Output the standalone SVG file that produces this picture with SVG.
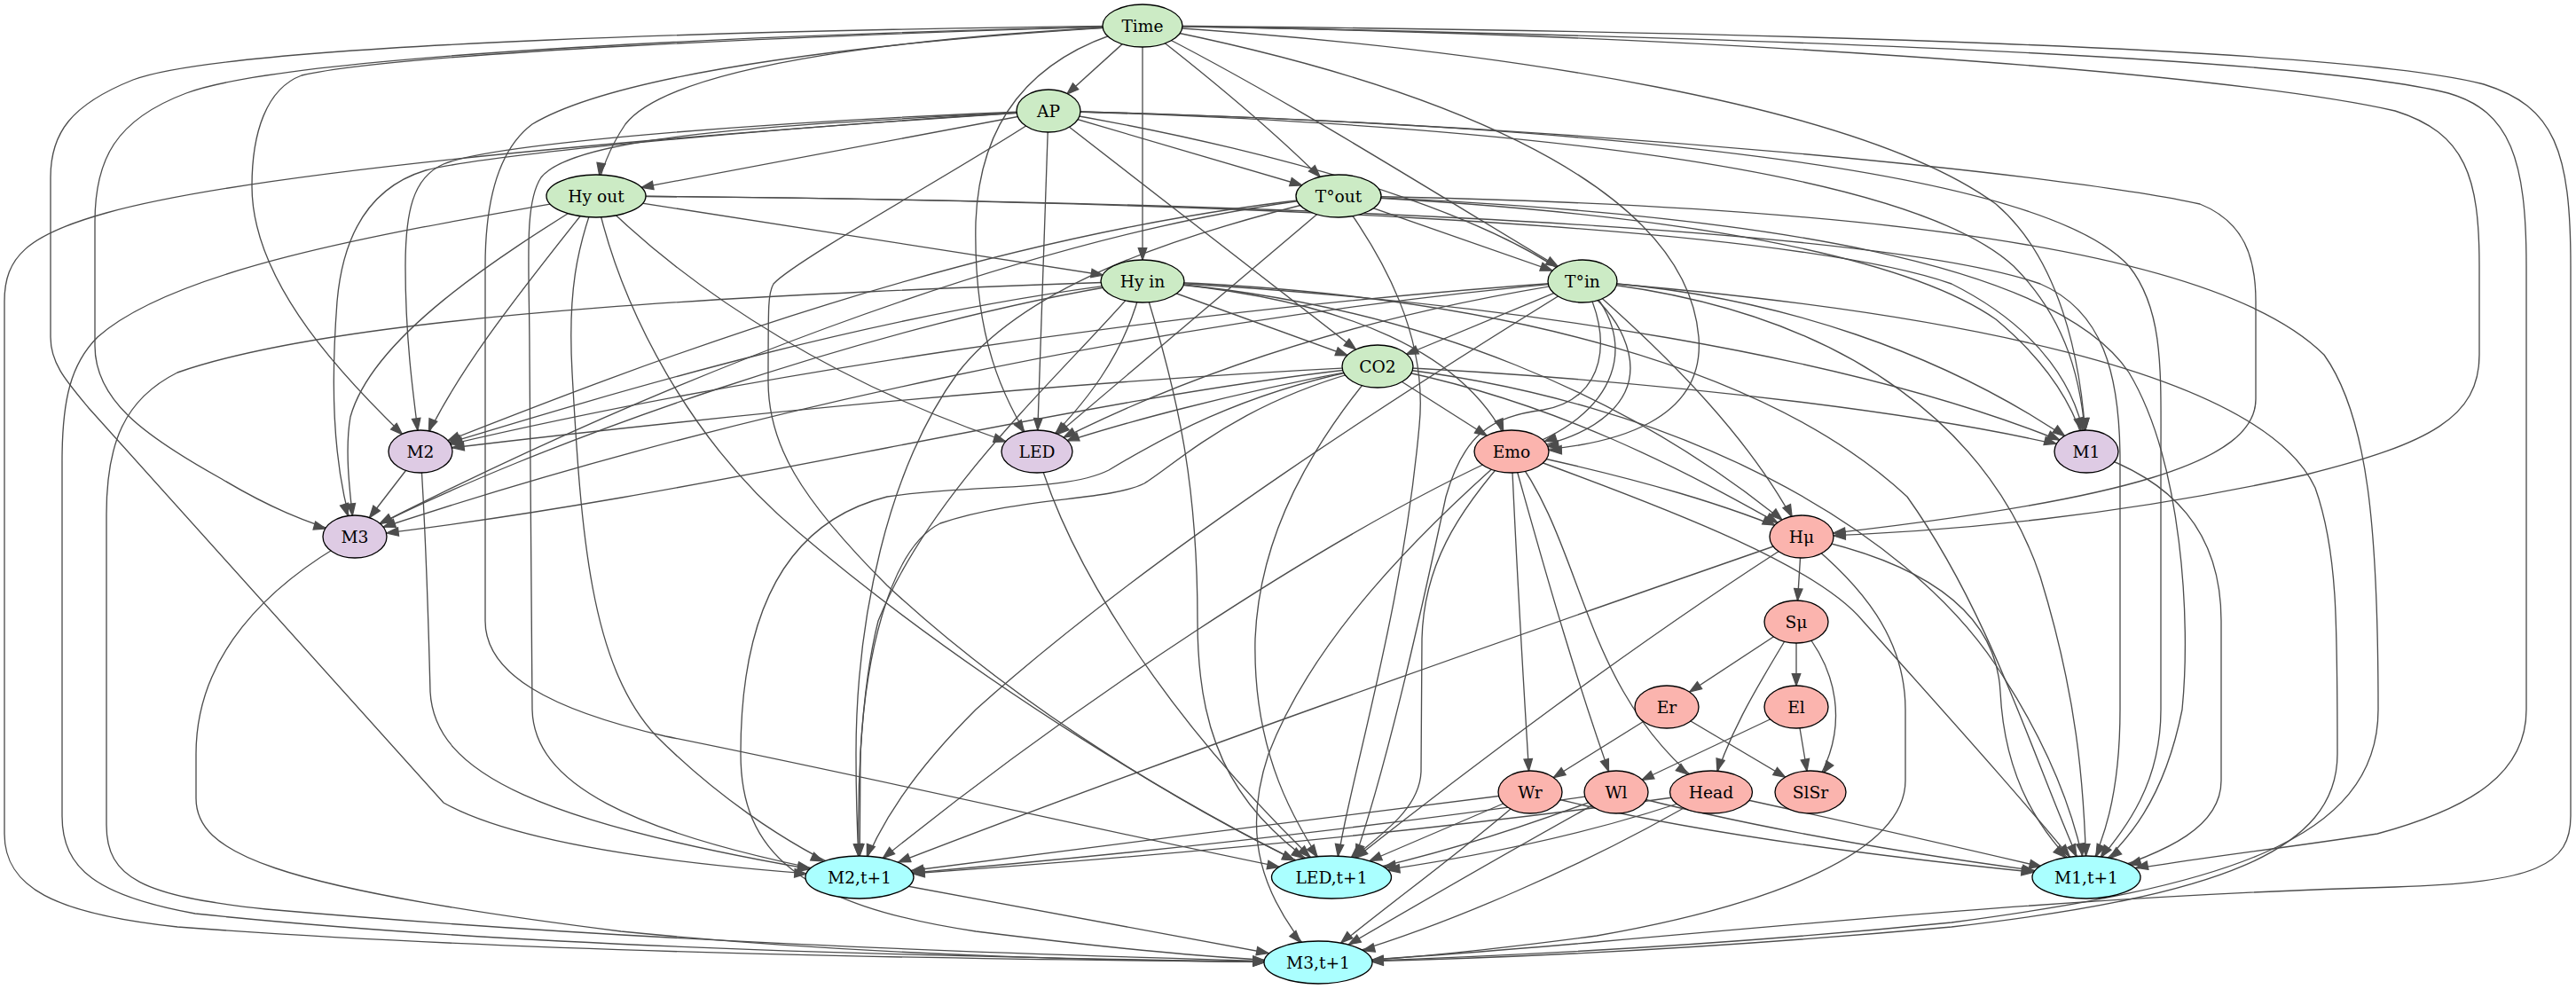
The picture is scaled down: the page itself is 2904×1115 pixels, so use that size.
<svg xmlns="http://www.w3.org/2000/svg" width="2904" height="1115" viewBox="0 0 2904 1115">
<style>
.e{fill:none;stroke:#4d4d4d;stroke-width:1.33}
.ah{fill:#4d4d4d;stroke:#4d4d4d;stroke-width:1.33}
ellipse{stroke:#000;stroke-width:1.33}
text{font-family:"DejaVu Serif","Liberation Serif",serif;font-size:18.67px;text-anchor:middle;fill:#000}
.g{fill:#ccebc5}.p{fill:#decbe4}.r{fill:#fbb4ae}.c{fill:#aaffff}
</style>
<defs>
<path id="ah" class="ah" d="M0,-4.7L13.3,0L0,4.7z"/>
<marker id="m24" markerUnits="userSpaceOnUse" orient="auto" refX="37.3" refY="0" markerWidth="14" markerHeight="10" style="overflow:visible"><use href="#ah"/></marker>
<marker id="m25" markerUnits="userSpaceOnUse" orient="auto" refX="38.3" refY="0" markerWidth="14" markerHeight="10" style="overflow:visible"><use href="#ah"/></marker>
<marker id="m26" markerUnits="userSpaceOnUse" orient="auto" refX="39.3" refY="0" markerWidth="14" markerHeight="10" style="overflow:visible"><use href="#ah"/></marker>
<marker id="m27" markerUnits="userSpaceOnUse" orient="auto" refX="40.3" refY="0" markerWidth="14" markerHeight="10" style="overflow:visible"><use href="#ah"/></marker>
<marker id="m28" markerUnits="userSpaceOnUse" orient="auto" refX="41.3" refY="0" markerWidth="14" markerHeight="10" style="overflow:visible"><use href="#ah"/></marker>
<marker id="m29" markerUnits="userSpaceOnUse" orient="auto" refX="42.3" refY="0" markerWidth="14" markerHeight="10" style="overflow:visible"><use href="#ah"/></marker>
<marker id="m30" markerUnits="userSpaceOnUse" orient="auto" refX="43.3" refY="0" markerWidth="14" markerHeight="10" style="overflow:visible"><use href="#ah"/></marker>
<marker id="m31" markerUnits="userSpaceOnUse" orient="auto" refX="44.3" refY="0" markerWidth="14" markerHeight="10" style="overflow:visible"><use href="#ah"/></marker>
<marker id="m32" markerUnits="userSpaceOnUse" orient="auto" refX="45.3" refY="0" markerWidth="14" markerHeight="10" style="overflow:visible"><use href="#ah"/></marker>
<marker id="m33" markerUnits="userSpaceOnUse" orient="auto" refX="46.3" refY="0" markerWidth="14" markerHeight="10" style="overflow:visible"><use href="#ah"/></marker>
<marker id="m34" markerUnits="userSpaceOnUse" orient="auto" refX="47.3" refY="0" markerWidth="14" markerHeight="10" style="overflow:visible"><use href="#ah"/></marker>
<marker id="m35" markerUnits="userSpaceOnUse" orient="auto" refX="48.3" refY="0" markerWidth="14" markerHeight="10" style="overflow:visible"><use href="#ah"/></marker>
<marker id="m36" markerUnits="userSpaceOnUse" orient="auto" refX="49.3" refY="0" markerWidth="14" markerHeight="10" style="overflow:visible"><use href="#ah"/></marker>
<marker id="m37" markerUnits="userSpaceOnUse" orient="auto" refX="50.3" refY="0" markerWidth="14" markerHeight="10" style="overflow:visible"><use href="#ah"/></marker>
<marker id="m38" markerUnits="userSpaceOnUse" orient="auto" refX="51.3" refY="0" markerWidth="14" markerHeight="10" style="overflow:visible"><use href="#ah"/></marker>
<marker id="m39" markerUnits="userSpaceOnUse" orient="auto" refX="52.3" refY="0" markerWidth="14" markerHeight="10" style="overflow:visible"><use href="#ah"/></marker>
<marker id="m40" markerUnits="userSpaceOnUse" orient="auto" refX="53.3" refY="0" markerWidth="14" markerHeight="10" style="overflow:visible"><use href="#ah"/></marker>
<marker id="m43" markerUnits="userSpaceOnUse" orient="auto" refX="56.3" refY="0" markerWidth="14" markerHeight="10" style="overflow:visible"><use href="#ah"/></marker>
<marker id="m45" markerUnits="userSpaceOnUse" orient="auto" refX="58.3" refY="0" markerWidth="14" markerHeight="10" style="overflow:visible"><use href="#ah"/></marker>
<marker id="m46" markerUnits="userSpaceOnUse" orient="auto" refX="59.3" refY="0" markerWidth="14" markerHeight="10" style="overflow:visible"><use href="#ah"/></marker>
<marker id="m47" markerUnits="userSpaceOnUse" orient="auto" refX="60.3" refY="0" markerWidth="14" markerHeight="10" style="overflow:visible"><use href="#ah"/></marker>
<marker id="m50" markerUnits="userSpaceOnUse" orient="auto" refX="63.3" refY="0" markerWidth="14" markerHeight="10" style="overflow:visible"><use href="#ah"/></marker>
<marker id="m52" markerUnits="userSpaceOnUse" orient="auto" refX="65.3" refY="0" markerWidth="14" markerHeight="10" style="overflow:visible"><use href="#ah"/></marker>
<marker id="m57" markerUnits="userSpaceOnUse" orient="auto" refX="70.3" refY="0" markerWidth="14" markerHeight="10" style="overflow:visible"><use href="#ah"/></marker>
<marker id="m59" markerUnits="userSpaceOnUse" orient="auto" refX="72.3" refY="0" markerWidth="14" markerHeight="10" style="overflow:visible"><use href="#ah"/></marker>
<marker id="m60" markerUnits="userSpaceOnUse" orient="auto" refX="73.3" refY="0" markerWidth="14" markerHeight="10" style="overflow:visible"><use href="#ah"/></marker>
<marker id="m64" markerUnits="userSpaceOnUse" orient="auto" refX="77.3" refY="0" markerWidth="14" markerHeight="10" style="overflow:visible"><use href="#ah"/></marker>
</defs>
<rect width="2904" height="1115" fill="#fff"/>
<g id="edges">
<path class="e" marker-end="url(#m28)" d="M1288,29 L1182,125"/>
<path class="e" marker-end="url(#m24)" d="M1288,29 C1050,40 760,70 705,140 C688,165 676,195 672,221"/>
<path class="e" marker-end="url(#m30)" d="M1288,29 C1380,100 1450,160 1509,221"/>
<path class="e" marker-end="url(#m24)" d="M1288,29 L1288,317"/>
<path class="e" marker-end="url(#m32)" d="M1288,29 C1450,110 1620,220 1784,317"/>
<path class="e" marker-end="url(#m26)" d="M1288,29 C1180,55 1105,120 1100,250 C1097,380 1130,450 1169,509"/>
<path class="e" marker-end="url(#m43)" d="M1288,29 C1600,90 1900,200 1915,380 C1922,470 1830,505 1704,509"/>
<path class="e" marker-end="url(#m24)" d="M1288,29 C1700,55 2100,120 2250,230 C2320,290 2347,400 2352,509"/>
<path class="e" marker-end="url(#m28)" d="M1288,29 C900,40 450,60 340,85 C300,100 284,150 284,210 C284,320 390,430 474,509"/>
<path class="e" marker-end="url(#m34)" d="M1288,29 C900,38 330,60 210,105 C130,135 107,180 107,250 L107,390 C107,450 160,490 250,540 C300,570 345,590 400,605"/>
<path class="e" marker-end="url(#m36)" d="M1288,29 C1900,38 2500,80 2700,125 C2780,150 2795,200 2795,300 L2795,400 C2795,470 2740,500 2600,535 C2400,580 2200,600 2031,605"/>
<path class="e" marker-end="url(#m60)" d="M1288,29 C900,33 260,48 150,90 C80,118 57,150 57,200 L57,380 C57,410 75,430 100,460 L500,905 C580,950 750,975 969,989"/>
<path class="e" marker-end="url(#m60)" d="M1288,29 C1000,45 700,80 600,140 C560,170 547,230 547,300 L547,700 C547,760 620,800 750,830 C1000,880 1300,950 1501,989"/>
<path class="e" marker-end="url(#m57)" d="M1288,29 C2000,42 2600,65 2760,105 C2830,125 2848,180 2848,300 L2848,800 C2848,870 2790,910 2680,940 C2550,960 2450,970 2352,989"/>
<path class="e" marker-end="url(#m60)" d="M1288,29 C2000,35 2650,55 2800,95 C2880,120 2898,170 2898,300 L2898,920 C2898,975 2860,995 2700,1000 C2400,1008 2100,1035 1800,1062 C1650,1075 1560,1082 1486,1085"/>

<path class="e" marker-end="url(#m52)" d="M1182,125 L672,221"/>
<path class="e" marker-end="url(#m43)" d="M1182,125 L1509,221"/>
<path class="e" marker-end="url(#m31)" d="M1182,125 L1553,413"/>
<path class="e" marker-end="url(#m24)" d="M1182,125 L1169,509"/>
<path class="e" marker-end="url(#m40)" d="M1182,125 C1450,170 1780,260 1830,380 C1860,450 1800,495 1704,509"/>
<path class="e" marker-end="url(#m24)" d="M1182,125 C1700,140 2150,190 2270,300 C2330,360 2348,430 2352,509"/>
<path class="e" marker-end="url(#m24)" d="M1182,125 C900,135 560,160 500,185 C465,200 457,240 457,300 C457,380 465,440 474,509"/>
<path class="e" marker-end="url(#m25)" d="M1182,125 C900,142 560,172 480,192 C420,210 387,260 380,340 C374,420 372,520 400,605"/>
<path class="e" marker-end="url(#m36)" d="M1182,125 C1800,140 2350,200 2480,230 C2530,250 2543,290 2543,340 L2543,450 C2543,520 2400,565 2031,605"/>
<path class="e" marker-end="url(#m57)" d="M1182,125 C900,140 650,150 610,200 C590,230 597,300 597,400 L600,800 C602,880 700,940 969,989"/>
<path class="e" marker-end="url(#m46)" d="M1182,125 C1120,170 900,290 872,320 C866,330 866,340 866,430 C866,500 900,560 1000,660 C1150,800 1350,920 1501,989"/>
<path class="e" marker-end="url(#m28)" d="M1182,125 C1800,140 2300,190 2400,300 C2440,350 2436,420 2436,520 L2436,800 C2436,900 2380,950 2352,989"/>
<path class="e" marker-end="url(#m60)" d="M1182,125 C800,150 300,190 120,240 C30,265 5,290 5,340 L5,940 C5,1000 60,1030 200,1045 C600,1075 1100,1082 1486,1085"/>

<path class="e" marker-end="url(#m45)" d="M672,221 L1288,317"/>
<path class="e" marker-end="url(#m37)" d="M672,221 C780,330 950,440 1169,509"/>
<path class="e" marker-end="url(#m25)" d="M672,221 C610,300 510,420 474,509"/>
<path class="e" marker-end="url(#m24)" d="M672,221 C560,290 420,380 395,470 C388,510 395,560 400,605"/>
<path class="e" marker-end="url(#m60)" d="M672,221 C450,260 200,300 110,380 C80,410 70,450 70,520 L70,920 C70,980 110,1010 220,1030 C600,1070 1100,1080 1486,1085"/>
<path class="e" marker-end="url(#m45)" d="M672,221 C650,280 640,330 645,420 C655,600 665,750 740,830 C800,890 880,950 969,989"/>
<path class="e" marker-end="url(#m46)" d="M672,221 C700,350 780,500 900,600 C1100,770 1350,920 1501,989"/>
<path class="e" marker-end="url(#m24)" d="M672,221 C1300,225 2000,250 2200,320 C2300,370 2345,440 2352,509"/>
<path class="e" marker-end="url(#m26)" d="M672,221 C1300,225 2100,250 2300,320 C2370,350 2390,420 2390,520 L2390,800 C2390,900 2370,950 2352,989"/>

<path class="e" marker-end="url(#m36)" d="M1509,221 L1784,317"/>
<path class="e" marker-end="url(#m30)" d="M1509,221 L1169,509"/>
<path class="e" marker-end="url(#m33)" d="M1509,221 C1100,260 700,420 474,509"/>
<path class="e" marker-end="url(#m32)" d="M1509,221 C1150,260 700,450 400,605"/>
<path class="e" marker-end="url(#m24)" d="M1509,221 C1300,270 1150,330 1080,420 C1000,530 965,700 965,850 C965,920 967,950 969,989"/>
<path class="e" marker-end="url(#m24)" d="M1509,221 C1560,290 1610,380 1600,480 C1580,700 1520,880 1505,989"/>
<path class="e" marker-end="url(#m25)" d="M1509,221 C1900,240 2150,290 2250,360 C2310,410 2340,460 2352,509"/>
<path class="e" marker-end="url(#m34)" d="M1509,221 C2000,240 2320,300 2400,420 C2460,520 2470,700 2460,800 C2440,900 2400,950 2352,989"/>
<path class="e" marker-end="url(#m60)" d="M1509,221 C2100,230 2500,280 2620,400 C2670,470 2681,600 2681,800 C2681,950 2500,1000 2200,1040 C1900,1070 1650,1080 1486,1085"/>

<path class="e" marker-end="url(#m36)" d="M1288,317 L1553,413"/>
<path class="e" marker-end="url(#m29)" d="M1288,317 C1270,400 1220,460 1169,509"/>
<path class="e" marker-end="url(#m25)" d="M1288,317 C1520,335 1660,400 1704,509"/>
<path class="e" marker-end="url(#m33)" d="M1288,317 C1700,340 2100,400 2352,509"/>
<path class="e" marker-end="url(#m34)" d="M1288,317 C1000,350 700,440 474,509"/>
<path class="e" marker-end="url(#m32)" d="M1288,317 C1000,360 600,500 400,605"/>
<path class="e" marker-end="url(#m29)" d="M1288,317 C1600,340 1850,450 2031,605"/>
<path class="e" marker-end="url(#m24)" d="M1288,317 C1200,420 1050,550 990,700 C970,780 965,900 969,989"/>
<path class="e" marker-end="url(#m38)" d="M1288,317 C1330,450 1350,550 1350,700 C1350,850 1400,920 1501,989"/>
<path class="e" marker-end="url(#m26)" d="M1288,317 C1700,330 2000,420 2150,560 C2250,700 2300,880 2352,989"/>
<path class="e" marker-end="url(#m60)" d="M1288,317 C900,330 400,350 200,420 C140,450 120,500 120,580 L120,930 C120,990 160,1010 300,1025 C700,1060 1100,1075 1486,1085"/>

<path class="e" marker-end="url(#m35)" d="M1784,317 L1553,413"/>
<path class="e" marker-end="url(#m34)" d="M1784,317 C1500,360 1300,440 1169,509"/>
<path class="e" marker-end="url(#m39)" d="M1784,317 C1850,380 1830,470 1704,509"/>
<path class="e" marker-end="url(#m30)" d="M1784,317 C2000,330 2200,400 2352,509"/>
<path class="e" marker-end="url(#m35)" d="M1784,317 C1300,350 800,430 474,509"/>
<path class="e" marker-end="url(#m34)" d="M1784,317 C1300,360 800,470 400,605"/>
<path class="e" marker-end="url(#m25)" d="M1784,317 C1880,400 1980,500 2031,605"/>
<path class="e" marker-end="url(#m25)" d="M1784,317 C1600,430 1300,620 1100,800 C1030,870 990,930 969,989"/>
<path class="e" marker-end="url(#m25)" d="M1784,317 C1820,380 1810,450 1740,462 C1680,470 1650,490 1630,560 C1600,700 1560,880 1520,989"/>
<path class="e" marker-end="url(#m24)" d="M1784,317 C2100,350 2250,500 2300,650 C2340,780 2350,880 2352,989"/>
<path class="e" marker-end="url(#m60)" d="M1784,317 C2200,350 2550,420 2610,550 C2635,620 2635,700 2635,850 C2635,960 2500,1010 2200,1045 C1900,1072 1650,1082 1486,1085"/>

<path class="e" marker-end="url(#m36)" d="M1553,413 C1400,440 1250,480 1169,509"/>
<path class="e" marker-end="url(#m33)" d="M1553,413 L1704,509"/>
<path class="e" marker-end="url(#m35)" d="M1553,413 C1900,430 2200,470 2352,509"/>
<path class="e" marker-end="url(#m36)" d="M1553,413 C1200,430 800,470 474,509"/>
<path class="e" marker-end="url(#m36)" d="M1553,413 C1200,450 800,560 400,605"/>
<path class="e" marker-end="url(#m31)" d="M1553,413 C1750,450 1900,530 2031,605"/>
<path class="e" marker-end="url(#m24)" d="M1553,413 C1400,450 1330,520 1290,545 C1250,565 1150,560 1060,590 C1000,620 975,750 970,850 L969,989"/>
<path class="e" marker-end="url(#m28)" d="M1553,413 C1480,500 1420,600 1415,720 C1412,850 1460,930 1501,989"/>
<path class="e" marker-end="url(#m25)" d="M1553,413 C1900,450 2150,600 2250,750 C2310,840 2340,920 2352,989"/>
<path class="e" marker-end="url(#m60)" d="M1553,413 C1400,440 1300,500 1250,530 C1200,555 1100,545 1000,560 C880,590 835,700 835,850 C835,960 900,1020 1100,1050 C1300,1075 1400,1082 1486,1085"/>

<path class="e" marker-end="url(#m33)" d="M1169,509 C1200,620 1300,800 1501,989"/>
<path class="e" marker-end="url(#m27)" d="M474,509 L400,605"/>
<path class="e" marker-end="url(#m57)" d="M474,509 C480,600 483,700 485,780 C490,870 600,930 969,989"/>
<path class="e" marker-end="url(#m60)" d="M400,605 C300,660 221,740 221,850 L221,900 C221,960 300,1000 700,1050 C1000,1080 1300,1084 1486,1085"/>
<path class="e" marker-end="url(#m50)" d="M2352,509 C2450,540 2504,600 2504,700 L2504,880 C2504,930 2450,960 2352,989"/>

<path class="e" marker-end="url(#m33)" d="M1704,509 C1850,540 1950,570 2031,605"/>
<path class="e" marker-end="url(#m24)" d="M1704,509 C1710,650 1718,780 1725,893"/>
<path class="e" marker-end="url(#m25)" d="M1704,509 C1730,600 1770,750 1822,893"/>
<path class="e" marker-end="url(#m33)" d="M1704,509 C1790,620 1780,780 1929,893"/>
<path class="e" marker-end="url(#m34)" d="M1704,509 C1500,600 1200,800 969,989"/>
<path class="e" marker-end="url(#m32)" d="M1704,509 C1640,580 1605,640 1603,720 L1602,870 C1600,920 1540,950 1501,989"/>
<path class="e" marker-end="url(#m30)" d="M1704,509 C1900,580 2050,640 2100,700 C2180,790 2280,900 2352,989"/>
<path class="e" marker-end="url(#m30)" d="M1704,509 C1600,600 1480,720 1430,850 C1400,940 1420,1010 1486,1085"/>

<path class="e" marker-end="url(#m24)" d="M2031,605 L2025,701"/>
<path class="e" marker-end="url(#m47)" d="M2031,605 C1700,720 1300,860 969,989"/>
<path class="e" marker-end="url(#m35)" d="M2031,605 C1850,720 1650,870 1501,989"/>
<path class="e" marker-end="url(#m33)" d="M2031,605 C2150,630 2250,680 2255,780 C2260,880 2300,940 2352,989"/>
<path class="e" marker-end="url(#m60)" d="M2031,605 C2100,660 2148,720 2148,800 L2148,880 C2148,960 2000,1020 1800,1055 C1650,1075 1560,1083 1486,1085"/>

<path class="e" marker-end="url(#m31)" d="M2025,701 L1879,797"/>
<path class="e" marker-end="url(#m24)" d="M2025,701 L2025,797"/>
<path class="e" marker-end="url(#m25)" d="M2025,701 C1990,760 1950,820 1929,893"/>
<path class="e" marker-end="url(#m26)" d="M2025,701 C2070,750 2090,820 2041,893"/>
<path class="e" marker-end="url(#m31)" d="M1879,797 L1725,893"/>
<path class="e" marker-end="url(#m33)" d="M1879,797 L2041,893"/>
<path class="e" marker-end="url(#m32)" d="M2025,797 L1822,893"/>
<path class="e" marker-end="url(#m24)" d="M2025,797 L2041,893"/>

<path class="e" marker-end="url(#m59)" d="M1725,893 C1500,920 1200,960 969,989"/>
<path class="e" marker-end="url(#m47)" d="M1725,893 L1501,989"/>
<path class="e" marker-end="url(#m34)" d="M1725,893 C1650,960 1550,1030 1486,1085"/>
<path class="e" marker-end="url(#m60)" d="M1725,893 C1900,940 2150,970 2352,989"/>
<path class="e" marker-end="url(#m60)" d="M1822,893 C1500,940 1200,970 969,989"/>
<path class="e" marker-end="url(#m60)" d="M1822,893 C1700,940 1600,970 1501,989"/>
<path class="e" marker-end="url(#m40)" d="M1822,893 C1700,960 1580,1030 1486,1085"/>
<path class="e" marker-end="url(#m59)" d="M1822,893 C2000,940 2200,970 2352,989"/>
<path class="e" marker-end="url(#m60)" d="M1929,893 C1600,940 1250,970 969,989"/>
<path class="e" marker-end="url(#m64)" d="M1929,893 C1800,940 1650,970 1501,989"/>
<path class="e" marker-end="url(#m52)" d="M1929,893 C1800,970 1620,1050 1486,1085"/>
<path class="e" marker-end="url(#m52)" d="M1929,893 C2100,930 2250,965 2352,989"/>
<path class="e" marker-end="url(#m57)" d="M969,989 L1486,1085"/>
</g>
<g id="n-time"><ellipse class="g" cx="1288" cy="29" rx="45" ry="24"/><text x="1288" y="35.5">Time</text></g>
<g id="n-ap"><ellipse class="g" cx="1182" cy="125" rx="36" ry="24"/><text x="1182" y="131.5">AP</text></g>
<g id="n-hyout"><ellipse class="g" cx="672" cy="221" rx="56" ry="24"/><text x="672" y="227.5">Hy out</text></g>
<g id="n-tout"><ellipse class="g" cx="1509" cy="221" rx="48" ry="24"/><text x="1509" y="227.5">T°out</text></g>
<g id="n-hyin"><ellipse class="g" cx="1288" cy="317" rx="47" ry="24"/><text x="1288" y="323.5">Hy in</text></g>
<g id="n-tin"><ellipse class="g" cx="1784" cy="317" rx="39" ry="24"/><text x="1784" y="323.5">T°in</text></g>
<g id="n-co2"><ellipse class="g" cx="1553" cy="413" rx="40" ry="24"/><text x="1553" y="419.5">CO2</text></g>
<g id="n-m2"><ellipse class="p" cx="474" cy="509" rx="36" ry="24"/><text x="474" y="515.5">M2</text></g>
<g id="n-led"><ellipse class="p" cx="1169" cy="509" rx="40" ry="24"/><text x="1169" y="515.5">LED</text></g>
<g id="n-emo"><ellipse class="r" cx="1704" cy="509" rx="42" ry="24"/><text x="1704" y="515.5">Emo</text></g>
<g id="n-m1"><ellipse class="p" cx="2352" cy="509" rx="36" ry="24"/><text x="2352" y="515.5">M1</text></g>
<g id="n-m3"><ellipse class="p" cx="400" cy="605" rx="36" ry="24"/><text x="400" y="611.5">M3</text></g>
<g id="n-hmu"><ellipse class="r" cx="2031" cy="605" rx="36" ry="24"/><text x="2031" y="611.5">Hμ</text></g>
<g id="n-smu"><ellipse class="r" cx="2025" cy="701" rx="36" ry="24"/><text x="2025" y="707.5">Sμ</text></g>
<g id="n-er"><ellipse class="r" cx="1879" cy="797" rx="36" ry="24"/><text x="1879" y="803.5">Er</text></g>
<g id="n-el"><ellipse class="r" cx="2025" cy="797" rx="36" ry="24"/><text x="2025" y="803.5">El</text></g>
<g id="n-wr"><ellipse class="r" cx="1725" cy="893" rx="36" ry="24"/><text x="1725" y="899.5">Wr</text></g>
<g id="n-wl"><ellipse class="r" cx="1822" cy="893" rx="36" ry="24"/><text x="1822" y="899.5">Wl</text></g>
<g id="n-head"><ellipse class="r" cx="1929" cy="893" rx="46.5" ry="24"/><text x="1929" y="899.5">Head</text></g>
<g id="n-slsr"><ellipse class="r" cx="2041" cy="893" rx="40" ry="24"/><text x="2041" y="899.5">SlSr</text></g>
<g id="n-m2t"><ellipse class="c" cx="969" cy="989" rx="61" ry="24"/><text x="969" y="995.5">M2,t+1</text></g>
<g id="n-ledt"><ellipse class="c" cx="1501" cy="989" rx="67.5" ry="24"/><text x="1501" y="995.5">LED,t+1</text></g>
<g id="n-m1t"><ellipse class="c" cx="2352" cy="989" rx="61" ry="24"/><text x="2352" y="995.5">M1,t+1</text></g>
<g id="n-m3t"><ellipse class="c" cx="1486" cy="1085" rx="61" ry="24"/><text x="1486" y="1091.5">M3,t+1</text></g>
</svg>
